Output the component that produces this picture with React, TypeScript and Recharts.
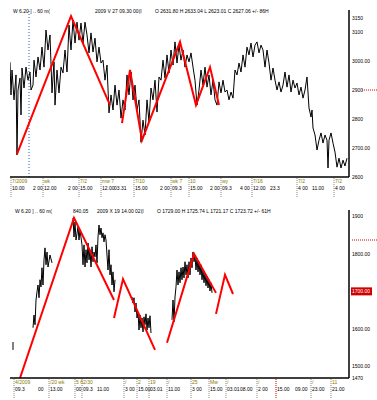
import React from 'react';
import { LineChart, Line, XAxis, YAxis, ReferenceLine } from 'recharts';

const FONT = '"Liberation Sans", Arial, sans-serif';

// upper panel: 60 min bars, [bar, price]
const topPrice: [number, number][] = [
  [0, 2996], [1, 2883], [2, 2969], [4, 2866], [6, 2952], [7, 2676], [8, 2900], [10, 2941], [11, 2814], [12, 2976],
  [14, 2907], [16, 2979], [18, 2934], [20, 2962], [21, 2900], [23, 2917], [24, 3003], [26, 2945], [28, 3014], [30, 2969],
  [32, 3048], [34, 2979], [36, 3107], [38, 3038], [40, 3090], [42, 2890], [44, 2997], [45, 2848], [47, 2969], [49, 2890],
  [51, 2979], [53, 2959], [55, 3038], [57, 2962], [59, 3124], [61, 3038], [63, 3141], [65, 3062], [67, 3134], [69, 3072],
  [71, 3131], [73, 3062], [75, 3134], [77, 3090], [79, 3028], [81, 3097], [83, 3031], [85, 3079], [87, 2997], [89, 3048],
  [91, 2993], [93, 3003], [95, 2934], [97, 2986], [99, 2821], [101, 2883], [103, 2831], [105, 2917], [107, 2848], [109, 2900],
  [111, 2803], [113, 2866], [115, 2831], [117, 2952], [119, 2883], [121, 2962], [123, 2866], [125, 2917], [127, 2831], [129, 2866],
  [131, 2720], [133, 2796], [135, 2745], [137, 2866], [139, 2790], [141, 2907], [143, 2866], [145, 2934], [147, 2824], [149, 2945],
  [151, 2934], [153, 3003], [155, 2941], [157, 3021], [159, 2959], [161, 3038], [163, 2986], [165, 3066], [167, 2993], [169, 3055],
  [171, 3003], [173, 3038], [175, 2979], [177, 3021], [179, 2997], [181, 3028], [183, 2979], [185, 2934], [187, 2848], [189, 2900],
  [191, 2969], [193, 2917], [195, 2979], [197, 2910], [199, 2952], [201, 2883], [203, 2934], [205, 2866], [207, 2848], [209, 2928],
  [211, 2890], [213, 2934], [215, 2893], [217, 2900], [219, 2866], [221, 2893], [223, 2872], [225, 2969], [227, 2952], [229, 2993],
  [231, 2962], [233, 3021], [235, 2979], [237, 3048], [239, 3021], [241, 3062], [243, 3014], [245, 3055], [247, 3066], [249, 3028],
  [251, 3055], [253, 3038], [255, 2979], [257, 3038], [259, 2993], [261, 2934], [263, 2976], [265, 2934], [267, 2900], [269, 2928],
  [271, 2893], [273, 2917], [275, 2962], [277, 2910], [279, 2952], [281, 2893], [283, 2934], [285, 2907], [287, 2924], [289, 2883],
  [291, 2910], [293, 2872], [295, 2900], [297, 2945], [299, 2838], [301, 2807], [302, 2831], [303, 2769], [305, 2745], [307, 2693],
  [309, 2727], [311, 2752], [313, 2717], [315, 2745], [317, 2727], [318, 2631], [319, 2727], [321, 2752], [323, 2717], [325, 2686],
  [327, 2634], [329, 2665], [331, 2631], [333, 2658], [335, 2638], [337, 2665],
];
const topZigA: [number, number][] = [[7, 2679], [61, 3155], [100, 2848]];
const topZigB: [number, number][] = [[112, 2786], [120, 2969], [132, 2727], [170, 3066], [186, 2848], [200, 2979], [209, 2848]];

const topYTicks = [2600, 2700, 2800, 2900, 3000, 3100, 3150];
const topYLabels = ['2600', '2700.00', '2800', '2900', '3000.00', '3100', '3150'];
const topMark = 2900;

const topXBars = [2, 23, 34, 58, 70, 92, 104, 125, 150, 162, 180, 200, 212, 230, 243, 260, 288, 302, 325];
const topXTimes = ['10.00', '2 00', '12.00', '2 00', '15.00', '12.00', '03.31', '15.00', '2 00', '09.3', '15.00', '2 00', '09.3', '4 00', '12.00', '23.3', '4 00', '11.00', '4 00'];
const topXDays = ['7/2009', '', 'wk', '', '7/2', 'mw 7', '', '7/10', '', 'wk 7', '10', '', 'wy', '', '7/16', '', '7/2', '', '7/2'];

const topTitle = ['W 6.20 ] .. 60 m(', '2009 V 27 09.30 00(I', 'O 2631.80 H 2633.04 L 2623.01 C 2627.06 +/- 86H'];

// lower panel
const botPrice: [number, number | null][] = [
  [3, 1565], [3, 1544], [12, null],
  [23, 1603], [24, 1637], [25, 1611], [26, 1677], [27, 1699], [28, 1717], [29, 1683], [30, 1731], [31, 1712], [32, 1763],
  [33, 1717], [34, 1784], [35, 1816], [36, 1771], [37, 1805], [38, 1765], [40, 1797], [42, 1776], [50, null],
  [63, 1896], [64, 1845], [65, 1885], [66, 1837], [68, 1872], [69, 1837], [70, 1864], [72, 1824], [73, 1771], [74, 1824],
  [75, 1765], [76, 1811], [77, 1776], [78, 1829], [79, 1784], [80, 1811], [81, 1765], [82, 1819], [83, 1779], [84, 1805],
  [85, 1792], [86, 1824], [87, 1776], [88, 1845], [89, 1877], [90, 1851], [91, 1869], [92, 1843], [93, 1856], [94, 1832],
  [95, 1851], [96, 1837], [97, 1797], [98, 1757], [99, 1811], [100, 1744], [101, 1771], [102, 1717], [103, 1752], [104, 1699],
  [105, 1731], [110, null],
  [122, 1685], [123, 1669], [124, 1683], [125, 1645], [126, 1669], [127, 1629], [128, 1645], [129, 1597], [130, 1637], [131, 1603],
  [132, 1629], [133, 1592], [134, 1632], [135, 1611], [136, 1640], [137, 1597], [138, 1629], [139, 1603], [140, 1635], [141, 1589],
  [150, null],
  [162, 1624], [163, 1677], [164, 1619], [165, 1685], [166, 1712], [167, 1757], [168, 1717], [169, 1752], [170, 1723], [171, 1763],
  [172, 1731], [173, 1765], [174, 1736], [175, 1779], [176, 1744], [177, 1771], [178, 1736], [179, 1779], [180, 1744], [181, 1789],
  [182, 1763], [183, 1805], [184, 1779], [185, 1795], [186, 1757], [187, 1789], [188, 1752], [189, 1779], [190, 1744], [191, 1771],
  [192, 1731], [193, 1757], [194, 1723], [195, 1749], [196, 1715], [197, 1739], [198, 1709], [199, 1731], [200, 1701], [201, 1723],
  [202, 1696],
];
const botZigA: [number, number][] = [[10, 1469], [64, 1896], [104, 1677]];
const botZigB: [number, number][] = [[104, 1629], [113, 1733], [145, 1544]];
const botZigC: [number, number][] = [[157, 1563], [184, 1800], [206, 1696]];
const botZigD: [number, number][] = [[206, 1640], [215, 1744], [223, 1693]];

const botYTicks = [1470, 1500, 1600, 1700, 1800, 1837, 1900];
const botYLabels = ['1470', '1500.00', '1600.00', '1700.00', '1800.00', '', '1900'];
const botMark = 1837;
const botBox = 1700;

const botXBars = [5, 28, 40, 66, 73, 87, 115, 128, 140, 158, 182, 200, 217, 230, 248, 267, 285, 302, 322];
const botXTimes = ['09.3', '00', '13.00', '00', '09.3', '11.00', '3 00', '15.00', '03.01', '11.00', '3 00', '15.00', '03.01', '08.00', '2 00', '15.00', '09.00', '23.00', '21.00'];
const botXDays = ['4/2009', '', '/20 wk', '5 6', '2/30', '', '/', '2', '19', '/', '25', 'Mw', '/', '', '/', '', '', '/', '11'];
const botRedBar = 267;

const botTitle = ['W 6.20 ] .. 60 m(', '840.05', '2009 X 19 14.00 02(I', 'O 1729.00 H 1725.74 L 1721.17 C 1723.72 +/- 61H'];

const toRows = (arr: [number, number | null][]) => arr.map(([bar, v]) => ({ bar, v }));

function makeYTick(ticks: number[], labels: string[], mark: number, box?: number) {
  return (props: any) => {
    const { x, y, payload } = props;
    const i = ticks.indexOf(payload.value);
    const label = labels[i] ?? '';
    const isBox = payload.value === box;
    return (
      <g>
        {isBox && <rect x={x} y={y - 4} width={21} height={8} fill="#d00000" />}
        {label && (
          <text x={x + 1} y={y + 2} fontSize={5} fontFamily={FONT} fill={isBox ? '#fff' : '#000'} textAnchor="start">
            {label}
          </text>
        )}
        {payload.value === mark && (
          <line x1={label ? x + 11 : x + 1} x2={377} y1={y} y2={y} stroke="#e00000" strokeDasharray="1 1" />
        )}
      </g>
    );
  };
}

function makeXTick(bars: number[], days: string[], times: string[], redBar?: number) {
  return (props: any) => {
    const { x, y, payload } = props;
    const i = bars.indexOf(payload.value);
    const sep = days[i] !== '' || payload.value === redBar;
    return (
      <g>
        {sep && (
          <line x1={x - 1} x2={x - 1} y1={y + 1} y2={y + 21}
            stroke={payload.value === redBar ? '#d00000' : '#888'} strokeDasharray="1 1" />
        )}
        <text x={x} y={y + 6} fontSize={5} fontFamily={FONT} fill="#8a7a00" textAnchor="start">{days[i]}</text>
        <text x={x} y={y + 13} fontSize={5} fontFamily={FONT} fill="#000" textAnchor="start">{times[i]}</text>
      </g>
    );
  };
}

interface PanelProps {
  top: number;
  price: [number, number | null][];
  zigs: [number, number][][];
  domain: [number, number];
  yTicks: number[];
  yTick: any;
  xBars: number[];
  xTick: any;
  xHeight: number;
  title: string[];
  titleX: number[];
  cursorBar?: number;
}

function Panel(p: PanelProps) {
  return (
    <div style={{ position: 'absolute', left: 0, top: p.top, width: 377, height: 200 }}>
      <LineChart width={377} height={200} margin={{ top: 10, right: 0, left: 10, bottom: 0 }}>
        <XAxis
          dataKey="bar"
          type="number"
          domain={[0, 339]}
          allowDataOverflow
          ticks={p.xBars}
          interval={0}
          tick={p.xTick}
          tickLine={false}
          tickSize={0}
          tickMargin={0}
          height={p.xHeight}
          axisLine={{ stroke: '#000', strokeWidth: 1.5 }}
        />
        <YAxis
          orientation="right"
          type="number"
          domain={p.domain}
          allowDataOverflow
          ticks={p.yTicks}
          interval={0}
          tick={p.yTick}
          tickLine={false}
          tickSize={0}
          tickMargin={2}
          width={28}
          axisLine={{ stroke: '#000', strokeWidth: 1.5 }}
        />
        {p.cursorBar !== undefined && (
          <ReferenceLine x={p.cursorBar} stroke="#1f5fbf" strokeDasharray="1 2" />
        )}
        <Line
          data={toRows(p.price)}
          dataKey="v"
          stroke="#000"
          strokeWidth={1}
          dot={false}
          isAnimationActive={false}
          connectNulls={false}
        />
        {p.zigs.map((z, k) => (
          <Line
            key={k}
            data={toRows(z)}
            dataKey="v"
            stroke="#ff0000"
            strokeWidth={2}
            dot={false}
            isAnimationActive={false}
          />
        ))}
      </LineChart>
      {p.title.map((t, k) => (
        <div
          key={k}
          style={{
            position: 'absolute',
            left: p.titleX[k],
            top: 8,
            fontSize: 5,
            lineHeight: '6px',
            fontFamily: FONT,
            color: '#000',
            whiteSpace: 'nowrap',
          }}
        >
          {t}
        </div>
      ))}
    </div>
  );
}

export default function App() {
  return (
    <div style={{ position: 'absolute', left: 0, top: 0, width: 377, height: 400, background: '#fff' }}>
      <Panel
        top={0}
        price={topPrice}
        zigs={[topZigA, topZigB]}
        domain={[2600, 3176]}
        yTicks={topYTicks}
        yTick={makeYTick(topYTicks, topYLabels, topMark)}
        xBars={topXBars}
        xTick={makeXTick(topXBars, topXDays, topXTimes)}
        xHeight={23}
        title={topTitle}
        titleX={[13, 95, 155]}
        cursorBar={19}
      />
      <Panel
        top={200}
        price={botPrice}
        zigs={[botZigA, botZigB, botZigC, botZigD]}
        domain={[1469, 1917]}
        yTicks={botYTicks}
        yTick={makeYTick(botYTicks, botYLabels, botMark, botBox)}
        xBars={botXBars}
        xTick={makeXTick(botXBars, botXDays, botXTimes, botRedBar)}
        xHeight={22}
        title={botTitle}
        titleX={[15, 73, 97, 157]}
      />
    </div>
  );
}
